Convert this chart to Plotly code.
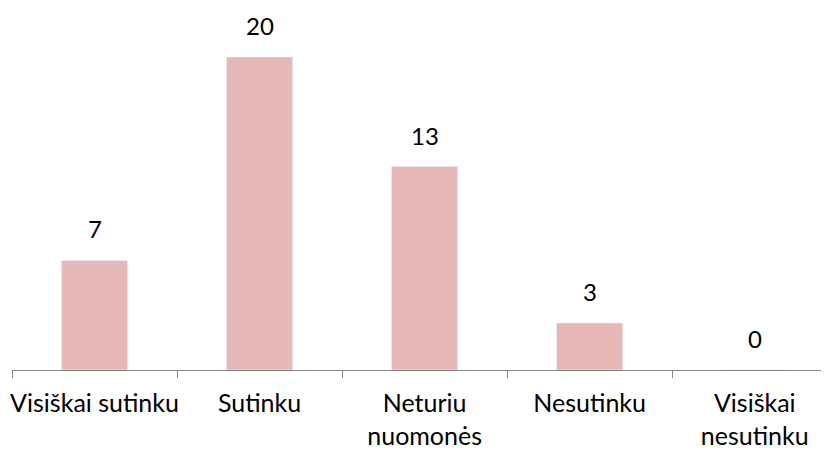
import plotly.graph_objects as go

# Answer categories and counts
categories = ["Visiškai sutinku", "Sutinku", "Neturiu<br>nuomonės", "Nesutinku", "Visiškai<br>nesutinku"]
counts = [7, 20, 13, 3, 0]

fig = go.Figure()
fig.add_trace(go.Bar(x=categories, y=counts, marker_color="#E6B9B8", width=0.4))

# value labels above each bar
for cat, val in zip(categories, counts):
    fig.add_annotation(x=cat, y=val, text=str(val), showarrow=False,
                       yanchor="bottom", yshift=15,
                       font=dict(family="Lato", size=24, color="black"))

# page body has an 8px margin, so the figure is a bit smaller than the window
fig.update_layout(
    width=821, height=442,
    margin=dict(l=4, r=0, t=0, b=80),
    plot_bgcolor="white", paper_bgcolor="white",
    showlegend=False,
    font=dict(family="Lato", size=25, color="black"),
    bargap=0.6,
)
fig.update_xaxes(range=[-0.5, 4.45], showline=True, linecolor="#868686", linewidth=1,
                 ticks="outside", tickson="boundaries", ticklen=7, tickcolor="#868686",
                 showgrid=False, tickangle=0, automargin=False, ticklabelstandoff=11)
fig.update_yaxes(range=[0, 23.13], visible=False, showgrid=False, automargin=False)

fig.write_html("out.html")
